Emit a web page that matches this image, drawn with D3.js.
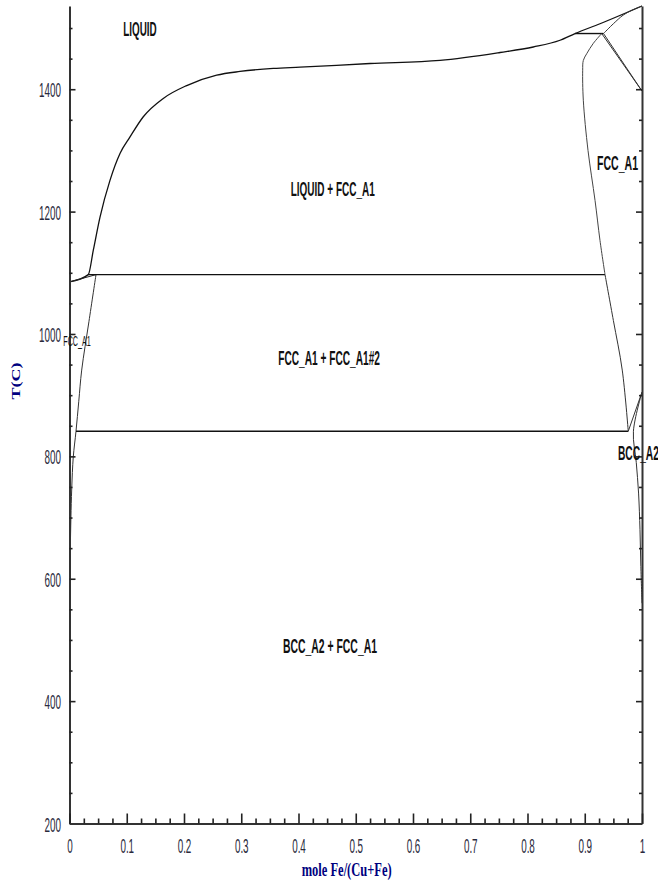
<!DOCTYPE html>
<html><head><meta charset="utf-8">
<script src="https://cdn.jsdelivr.net/npm/d3@7"></script>
<style>body{margin:0;background:#fff}svg{display:block}</style>
</head><body><svg id="c" width="658" height="883"></svg>
<script>
// ---------- data (mole fraction Fe, temperature C) ----------
const xMajorTicks = [0,0.1,0.2,0.3,0.4,0.5,0.6,0.7,0.8,0.9,1];
const xTickLabels = ["0","0.1","0.2","0.3","0.4","0.5","0.6","0.7","0.8","0.9","1"];
const yMajorTicks = [200,400,600,800,1000,1200,1400];
const yTickLabels = ["200","400","600","800","1000","1200","1400"];

const liquidus = [[0,1085],[0.0328,1097],[0.0416,1137],[0.0533,1191],[0.0707,1251],[0.0882,1295],[0.1057,1322],[0.1289,1355],[0.1638,1385],[0.2047,1406],[0.2571,1423],[0.2978,1429],[0.356,1434],[0.4026,1436],[0.5249,1442],[0.6472,1447],[0.752,1460],[0.8101,1469],[0.8568,1480],[0.883,1491],[0.9266,1507],[1,1536]];
const cuSolidus = [[0,1085],[0.0463,1097]];
const cuSolvus = [[0.0463,1097],[0.0339,1020],[0.0213,941],[0.0162,890],[0.01135,841],[0.0066,799],[0.0038,745],[0.0014,650],[0,560]];
const peritecticCu = [[0.0328,1097],[0.9354,1097]];
const eutectoid = [[0.01135,841],[0.976,841]];
const feSolidus = [[0.9296,1491],[0.915,1475],[0.9034,1458],[0.8975,1447],[0.8964,1431],[0.8975,1382],[0.9057,1300],[0.918,1218],[0.9266,1153],[0.9354,1097]];
const feSolvus = [[0.9354,1097],[0.950,1022],[0.9655,941],[0.976,841]];
const peritecticFe = [[0.883,1491],[0.9328,1491]];
const deltaSolidus = [[0.9328,1491],[0.950,1507],[0.967,1521],[0.982,1529],[1,1536]];
const gammaDeltaA = [[0.9296,1491],[1,1397]];
const gammaDeltaB = [[0.9328,1491],[1,1397]];
const gammaAlpha = [[0.976,841],[1,905]];
const alphaBoundary = [[1,905],[0.985,841],[0.990,790],[0.994,740],[0.9965,680],[0.998,620],[1,560]];

const labelTexts = ["LIQUID","LIQUID + FCC_A1","FCC_A1 + FCC_A1#2","BCC_A2 + FCC_A1","FCC_A1","BCC_A2","FCC_A1"];
const labelX = [0.094,0.3864,0.3647,0.3729,0.9214,0.958,-0.0108];
const labelT = [1486.5,1225,949,478.5,1267.6,793.9,980];

// ---------- layout ----------
const svg = d3.select("#c");
const x = d3.scaleLinear().domain([0,1]).range([69.5,642]);
const y = d3.scaleLinear().domain([200,1536]).range([823.5,6]);

const labelWidth = [33.4,84,101.7,94,41,41,27.4];
const labelSize = [20,20,20,20,20,20,14];
const labelWeight = ["bold","bold","bold","bold","bold","bold","normal"];

const yMinor = d3.range(250,1501,50).filter(v => v % 200 !== 0);
const xMinor = d3.range(0,41).map(i => i/40).filter((v,i) => i % 4 !== 0);

// lines
const line = d3.line().x(d => x(d[0])).y(d => y(d[1]));
const lineSmooth = d3.line().x(d => x(d[0])).y(d => y(d[1])).curve(d3.curveMonotoneX);
const lineCR = d3.line().x(d => x(d[0])).y(d => y(d[1])).curve(d3.curveCatmullRom.alpha(0.5));

const g = svg.append("g").attr("fill","none");
function draw(data, gen, w, col){
  g.append("path").datum(data).attr("d", gen).attr("stroke", col).attr("stroke-width", w).attr("stroke-linejoin","round");
}
draw(liquidus, lineSmooth, 1.3, "#111");
draw(cuSolidus, line, 1, "#222");
draw(cuSolvus, lineCR, 1, "#333");
draw(peritecticCu, line, 1.4, "#111");
draw(eutectoid, line, 1.4, "#111");
draw(feSolidus, lineCR, 1, "#444");
draw(feSolvus, lineCR, 1, "#333");
draw(peritecticFe, line, 1.4, "#111");
draw(deltaSolidus, lineCR, 1, "#333");
draw(gammaDeltaA, line, 1, "#333");
draw(gammaDeltaB, line, 1, "#333");
draw(gammaAlpha, line, 1, "#333");
draw(alphaBoundary, lineCR, 1, "#333");

// axes
const axisCol = "#333";
function styleAxis(sel){
  sel.select(".domain").attr("stroke", axisCol).attr("stroke-width", 2);
  sel.selectAll(".tick line").attr("stroke", "#222").attr("stroke-width", 1.6);
}
const tickFont = "'Liberation Sans', Arial, sans-serif";
function narrow(sel, f){
  sel.each(function(){
    const L = this.getComputedTextLength();
    d3.select(this).attr("textLength", L*f).attr("lengthAdjust","spacingAndGlyphs");
  });
}

// left
const yl = svg.append("g").attr("transform","translate(69.5,0)")
  .call(d3.axisLeft(y).tickValues(yMajorTicks).tickFormat((d,i) => yTickLabels[i]).tickSizeInner(-6).tickSizeOuter(0).tickPadding(8.5));
yl.selectAll("text").attr("font-family", tickFont).attr("font-size", 21).attr("fill","#2a2a3c").attr("dy", 7.5);
narrow(yl.selectAll("text"), 0.47);
styleAxis(yl);
const ylm = svg.append("g").attr("transform","translate(69.5,0)")
  .call(d3.axisLeft(y).tickValues(yMinor).tickFormat("").tickSizeInner(-3).tickSizeOuter(0));
ylm.select(".domain").remove();
styleAxis(ylm);

// right
const yr = svg.append("g").attr("transform","translate(642,0)")
  .call(d3.axisRight(y).tickValues(yMajorTicks).tickFormat("").tickSizeInner(-6).tickSizeOuter(0));
styleAxis(yr);
const yrm = svg.append("g").attr("transform","translate(642,0)")
  .call(d3.axisRight(y).tickValues(yMinor).tickFormat("").tickSizeInner(-3).tickSizeOuter(0));
yrm.select(".domain").remove();
styleAxis(yrm);

// bottom
const xb = svg.append("g").attr("transform","translate(0,823.5)")
  .call(d3.axisBottom(x).tickValues(xMajorTicks).tickFormat((d,i) => xTickLabels[i]).tickSizeInner(-10).tickSizeOuter(0));
xb.selectAll("text").attr("font-family", tickFont).attr("font-size", 21).attr("fill","#2a2a3c").attr("y", 29.5).attr("dy", null);
narrow(xb.selectAll("text"), 0.47);
styleAxis(xb);
const xbm = svg.append("g").attr("transform","translate(0,823.5)")
  .call(d3.axisBottom(x).tickValues(xMinor).tickFormat("").tickSizeInner(-5).tickSizeOuter(0));
xbm.select(".domain").remove();
styleAxis(xbm);

// axis titles
svg.append("text").text("mole Fe/(Cu+Fe)")
  .attr("x", 346.7).attr("y", 876).attr("text-anchor","middle")
  .attr("font-family","'Liberation Serif','Times New Roman',serif").attr("font-weight","bold")
  .attr("font-size", 18).attr("fill","#000080")
  .attr("textLength", 90).attr("lengthAdjust","spacingAndGlyphs");
svg.append("text").text("T(C)")
  .attr("transform","translate(20,381) rotate(-90) scale(1,0.7)")
  .attr("text-anchor","middle")
  .attr("font-family","'Liberation Serif','Times New Roman',serif").attr("font-weight","bold")
  .attr("font-size", 18).attr("fill","#000080");

// region labels
svg.append("g").selectAll("text").data(labelTexts).join("text")
  .text(d => d)
  .attr("x", (d,i) => x(labelX[i]))
  .attr("y", (d,i) => y(labelT[i]))
  .attr("font-family", tickFont)
  .attr("font-weight", (d,i) => labelWeight[i])
  .attr("font-size", (d,i) => labelSize[i])
  .attr("fill", "#111")
  .attr("textLength", (d,i) => labelWidth[i])
  .attr("lengthAdjust","spacingAndGlyphs");
</script>
</body></html>
